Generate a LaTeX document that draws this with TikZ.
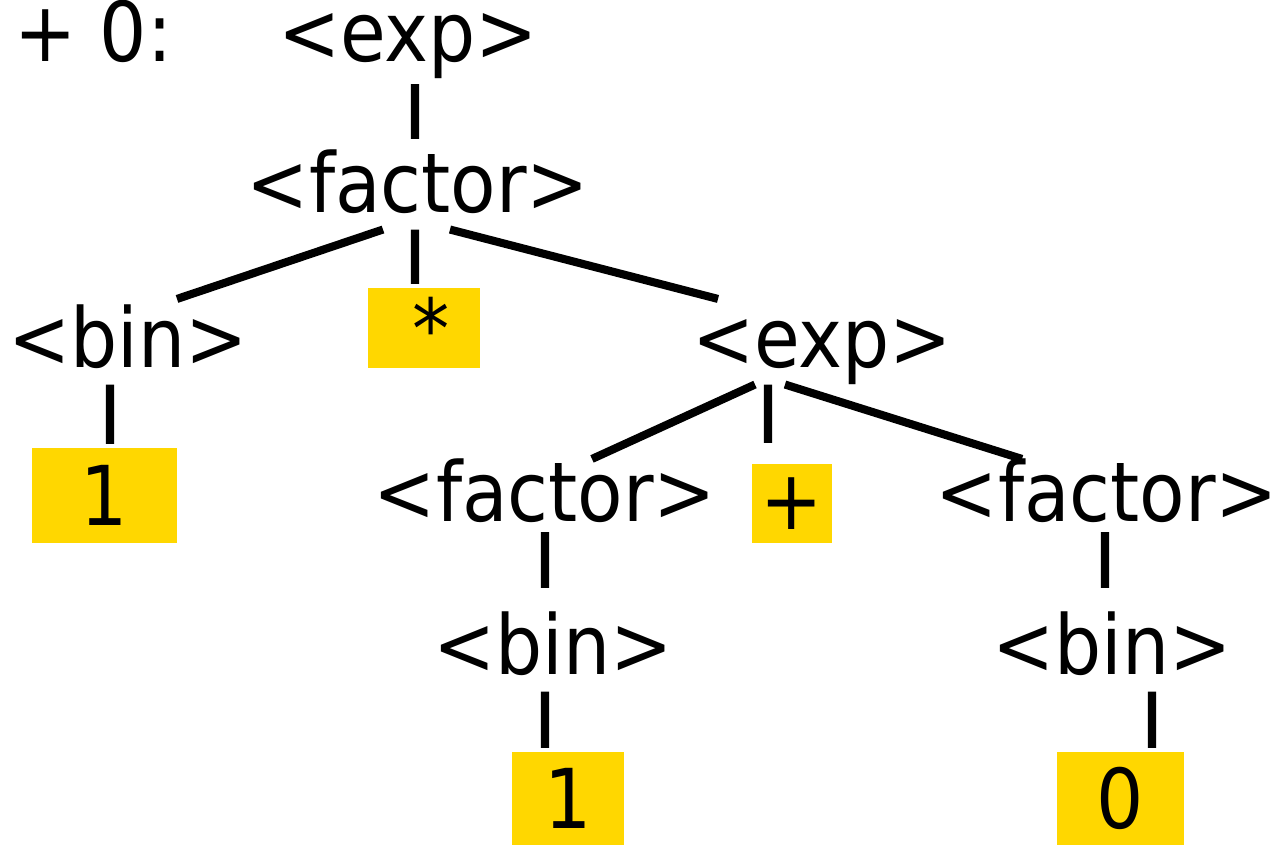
\documentclass[tikz,border=0pt]{standalone}
\usepackage{fontspec}
\setmainfont{DejaVu Sans Condensed}
\usepackage{tikz}
\definecolor{gold}{RGB}{255,215,0}

\begin{document}
\begin{tikzpicture}[line width=4.6pt,
    nt/.style={anchor=base,inner sep=0pt,text height=1.3cm,text depth=0.25cm,font=\fontsize{47}{56}\selectfont},
    term/.style={fill=gold,inner sep=0pt,font=\fontsize{47}{56}\selectfont}]
    \useasboundingbox (0,0) rectangle (25.46,16.9);
    \node[nt,anchor=base west] (lbl) at (0.2,15.66) {+ 0:};
    \node[nt] (e0) at (8.16,15.66) {<exp>};
    \node[nt] (f0) at (8.36,12.64) {<factor>};
    \node[nt] (b1) at (2.56,9.54) {<bin>};
    \node[term,minimum width=2.24cm,minimum height=1.6cm] (star) at (8.48,10.34) {\,*};
    \node[nt] (e1) at (16.44,9.54) {<exp>};
    \node[term,minimum width=2.9cm,minimum height=1.9cm] (one1) at (2.09,6.99) {1};
    \node[nt] (f1) at (10.9,6.46) {<factor>};
    \node[term,minimum width=1.6cm,minimum height=1.58cm] (plus) at (15.84,6.83) {+};
    \node[nt] (f2) at (22.14,6.46) {<factor>};
    \node[nt] (b2) at (11.06,3.4) {<bin>};
    \node[nt] (b3) at (22.24,3.4) {<bin>};
    \node[term,minimum width=2.24cm,minimum height=1.86cm] (one2) at (11.36,0.93) {1};
    \node[term,minimum width=2.54cm,minimum height=1.86cm] (zero) at (22.41,0.93) {0};
    \draw ([xshift=1.4mm,yshift=-1.1mm]e0.south) -- ([xshift=-0.6mm,yshift=1mm]f0.north);
    \draw ([xshift=-7mm]f0.south) -- ([xshift=9.8mm]b1.north);
    \draw ([xshift=-0.6mm]f0.south) -- ([xshift=-1.8mm]star.north);
    \draw ([xshift=6.4mm]f0.south) -- ([xshift=-20.8mm]e1.north);
    \draw ([xshift=-3.6mm]b1.south) -- ([xshift=1.1mm]one1.north);
    \draw ([xshift=-13.4mm]e1.south) -- ([xshift=9.4mm,yshift=-1.2mm]f1.north);
    \draw ([xshift=-10.8mm]e1.south) -- ([xshift=-4.8mm,yshift=3.4mm]plus.north);
    \draw ([xshift=-7.4mm]e1.south) -- ([xshift=-17mm,yshift=-1.2mm]f2.north);
    \draw ([yshift=1.3mm]f1.south) -- ([xshift=-1.6mm,yshift=3.6mm]b2.north);
    \draw ([xshift=-0.4mm,yshift=1.3mm]f2.south) -- ([xshift=-1.4mm,yshift=3.6mm]b3.north);
    \draw ([xshift=-1.6mm]b2.south) -- ([xshift=-4.6mm]one2.north);
    \draw ([xshift=8mm]b3.south) -- ([xshift=6.3mm]zero.north);
\end{tikzpicture}
\end{document}
